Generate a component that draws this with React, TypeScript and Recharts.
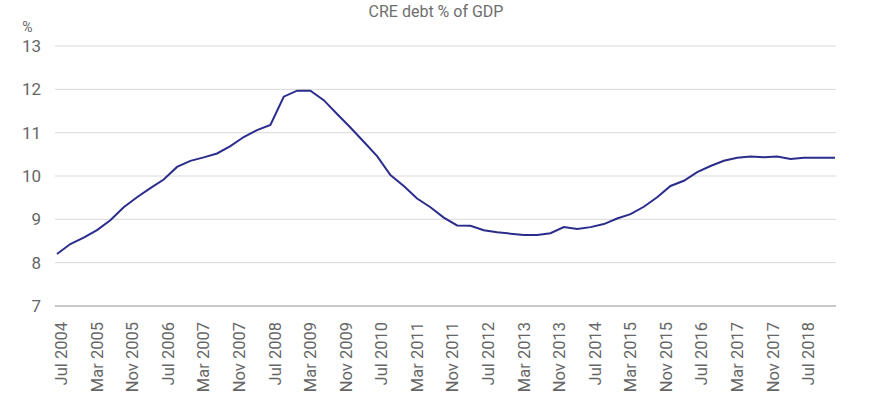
import { CartesianGrid, Line, LineChart, XAxis, YAxis } from "recharts";

const MONTHS = ["Jan", "Feb", "Mar", "Apr", "May", "Jun", "Jul", "Aug", "Sep", "Oct", "Nov", "Dec"];

// quarterly readings, Jun 2004 .. Dec 2018, plus the last Jan 2019 reading
const debtPct = [
  8.2, 8.43, 8.58, 8.75, 8.98, 9.28, 9.51, 9.72, 9.92, 10.21,
  10.35, 10.43, 10.52, 10.69, 10.9, 11.06, 11.18, 11.83, 11.97, 11.97,
  11.75, 11.43, 11.12, 10.79, 10.46, 10.02, 9.77, 9.48, 9.28, 9.04,
  8.86, 8.85, 8.75, 8.7, 8.67, 8.64, 8.64, 8.68, 8.82, 8.78,
  8.82, 8.89, 9.02, 9.12, 9.29, 9.51, 9.77, 9.89, 10.09, 10.23,
  10.35, 10.42, 10.45, 10.43, 10.45, 10.39, 10.42, 10.42, 10.42,
];
const lastValue = 10.42;

const tickLabels = [
  "Jul 2004", "Mar 2005", "Nov 2005", "Jul 2006", "Mar 2007", "Nov 2007",
  "Jul 2008", "Mar 2009", "Nov 2009", "Jul 2010", "Mar 2011", "Nov 2011",
  "Jul 2012", "Mar 2013", "Nov 2013", "Jul 2014", "Mar 2015", "Nov 2015",
  "Jul 2016", "Mar 2017", "Nov 2017", "Jul 2018",
];

const yTicks = [7, 8, 9, 10, 11, 12, 13];

// monthly category axis Jun 2004 .. Jan 2019, values only on quarter months
const data: { month: string; value: number | null }[] = [];
for (let i = 0; i < 176; i++) {
  const m = (5 + i) % 12;
  const y = 2004 + Math.floor((5 + i) / 12);
  let value: number | null = null;
  if (i % 3 === 0) value = debtPct[i / 3];
  if (i === 175) value = lastValue;
  data.push({ month: `${MONTHS[m]} ${y}`, value });
}

const TEXT = "#666666";
const FONT = "Roboto, 'Noto Sans', sans-serif";

function RotatedTick({ x, y, payload }: any) {
  return (
    <text
      x={x}
      y={y}
      transform={`rotate(-90, ${x}, ${y})`}
      textAnchor="end"
      dy="0.35em"
      fill={TEXT}
      fontSize={16.5}
      fontFamily={FONT}
    >
      {payload.value}
    </text>
  );
}

export default function App() {
  return (
    <div style={{ position: "absolute", left: 0, top: 0, width: 870, height: 402, background: "#fff" }}>
      <div
        style={{
          position: "absolute",
          top: 2,
          left: 0,
          width: 872,
          textAlign: "center",
          fontFamily: FONT,
          fontSize: 16,
          color: "#6e6e6e",
        }}
      >
        CRE debt % of GDP
      </div>
      <LineChart width={870} height={402} data={data} margin={{ top: 46, right: 34, bottom: 0, left: 0 }}>
        <CartesianGrid vertical={false} stroke="#d9d9d9" />
        <XAxis
          dataKey="month"
          ticks={tickLabels}
          interval={0}
          height={96}
          tickSize={0}
          tickMargin={16}
          tick={<RotatedTick />}
          axisLine={{ stroke: "#a6a6a6" }}
          padding={{ left: 2, right: 1 }}
        />
        <YAxis
          domain={[7, 13]}
          ticks={yTicks}
          width={55}
          axisLine={false}
          tickLine={false}
          tickSize={0}
          tickMargin={14}
          tick={{ fill: TEXT, fontSize: 17, fontFamily: FONT }}
          label={{ value: "%", position: "top", offset: 14, fill: TEXT, fontSize: 14, fontFamily: FONT }}
        />
        <Line
          type="linear"
          dataKey="value"
          stroke="#2b2d8c"
          strokeWidth={2}
          dot={false}
          connectNulls
          isAnimationActive={false}
        />
      </LineChart>
    </div>
  );
}
